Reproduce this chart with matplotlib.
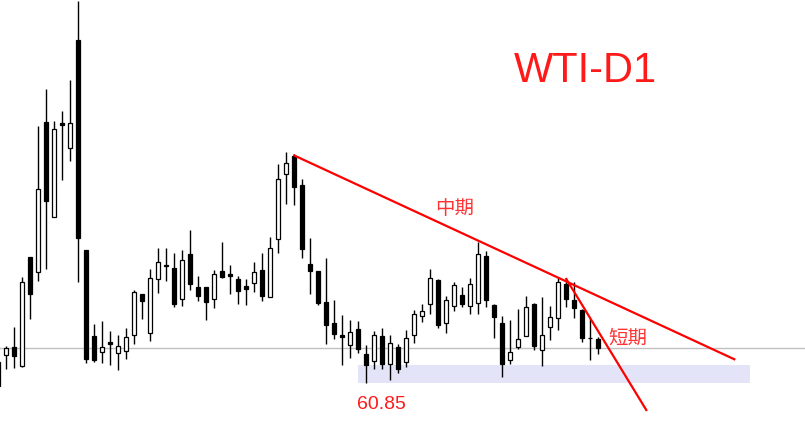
import numpy as np
import matplotlib.pyplot as plt

# daily candles
opens = [61.69, 61.97, 62.29, 61.53, 65.89, 65.29, 71.29, 67.49, 71.25, 70.25,
         74.57, 66.17, 62.73, 62.09, 62.49, 62.05, 62.13, 62.77, 64.41, 62.85,
         65.01, 65.57, 65.45, 64.21, 66.01, 64.69, 64.69, 64.21, 65.33, 65.21,
         65.01, 64.73, 64.85, 65.37, 64.29, 66.61, 69.21, 69.93, 68.77, 65.61,
         65.33, 64.09, 63.25, 62.77, 62.37, 63.01, 62.01, 61.73, 62.73, 61.61,
         62.29, 61.69, 62.77, 63.53, 64.01, 64.97, 63.25, 63.93, 64.37, 63.93,
         64.05, 65.93, 63.97, 63.25, 61.77, 62.29, 62.73, 64.01, 62.17, 63.09,
         63.45, 64.81, 64.17, 63.77, 62.65, 62.61]
highs = [61.77, 62.33, 63.09, 65.09, 65.89, 71.13, 72.61, 71.33, 71.73, 72.97,
         76.13, 66.17, 63.21, 63.33, 62.93, 62.77, 63.05, 64.57, 64.41, 65.41,
         66.25, 66.25, 66.05, 66.17, 66.97, 65.13, 64.69, 65.37, 66.49, 65.57,
         65.13, 65.01, 65.69, 66.05, 66.69, 69.61, 70.09, 70.01, 69.01, 66.65,
         65.33, 65.85, 64.17, 63.57, 63.37, 63.33, 62.37, 62.93, 63.05, 62.77,
         62.41, 62.97, 63.77, 64.01, 65.41, 65.01, 64.33, 64.89, 64.69, 65.05,
         66.49, 66.13, 64.01, 63.53, 63.37, 63.81, 64.33, 64.05, 64.29, 63.93,
         65.05, 65.05, 64.89, 63.81, 63.45, 62.69]
lows = [60.45, 61.41, 61.45, 61.49, 63.41, 64.93, 65.41, 67.49, 68.97, 69.73,
        64.89, 61.65, 61.69, 61.65, 61.57, 61.37, 61.81, 62.41, 63.41, 62.53,
        64.45, 64.93, 63.89, 63.93, 64.57, 64.13, 63.37, 63.85, 65.05, 64.41,
        64.01, 63.97, 64.49, 64.13, 64.29, 66.05, 68.01, 67.97, 65.85, 64.41,
        63.97, 62.41, 62.61, 61.57, 61.85, 62.05, 60.85, 61.41, 61.41, 60.97,
        61.25, 61.49, 62.45, 63.29, 63.61, 63.05, 62.85, 63.73, 63.89, 63.61,
        63.61, 63.89, 62.65, 61.09, 61.61, 62.21, 62.73, 62.17, 61.53, 62.57,
        62.97, 63.89, 63.45, 62.49, 61.77, 62.01]
closes = [60.73, 62.25, 61.93, 64.89, 64.41, 68.61, 68.13, 71.01, 71.17, 71.25,
          66.65, 61.81, 61.77, 62.29, 62.41, 62.33, 62.69, 64.49, 64.13, 65.05,
          65.69, 65.53, 64.01, 65.77, 64.81, 64.33, 64.09, 65.21, 65.09, 65.13,
          64.53, 64.61, 65.29, 64.33, 66.25, 69.01, 69.65, 68.69, 66.21, 65.33,
          64.05, 63.17, 62.81, 62.69, 62.89, 62.21, 61.57, 62.77, 61.61, 62.45,
          61.41, 62.65, 63.61, 63.73, 65.05, 63.17, 64.17, 64.77, 64.01, 64.81,
          66.01, 64.17, 63.49, 61.61, 62.09, 62.61, 63.89, 62.33, 62.77, 63.49,
          64.89, 64.21, 63.85, 62.65, 62.64, 62.25]

# drawn objects
mid_x = [37, 92]
mid_y = [69.95, 61.80]
short_x = [71, 81]
short_y = [65.01, 59.77]
zone_x = [45, 94]
zone_y = [60.85, 61.57]
last_price = 62.24
low_label = "60.85"

fig = plt.figure(figsize=(8.05, 4.36), dpi=100)
ax = fig.add_axes([0, 0, 1, 1])

idx = np.arange(len(opens))
o = np.array(opens)
c = np.array(closes)
up = c >= o

ax.axhline(last_price, color='#c0c0c0', lw=1, zorder=1)
ax.fill_between(zone_x, zone_y[0], zone_y[1], color='#e4e4f8', lw=0, zorder=1)

ax.vlines(idx, lows, highs, color='black', lw=1, zorder=2)
bottom = np.minimum(o, c)
height = np.maximum(np.abs(c - o), 0.01)
ax.bar(idx, height, bottom=bottom, width=0.55,
       color=np.where(up, 'white', 'black'), edgecolor='black', lw=0.9, zorder=3)

ax.plot(mid_x, mid_y, color='#ff0000', lw=1.6, zorder=4)
ax.plot(short_x, short_y, color='#ff0000', lw=1.6, zorder=4)

ax.text(0.7276, 0.8364, "WTI-D1", transform=ax.transAxes, ha='center', va='center',
        fontsize=30, color='#ff1a1a', family='Liberation Sans')
ax.text(0.5652, 0.5222, "中期", transform=ax.transAxes, ha='center', va='center',
        fontsize=14, color='#ff3333', family=['Noto Sans CJK SC', 'DejaVu Sans'])
ax.text(0.7799, 0.2252, "短期", transform=ax.transAxes, ha='center', va='center',
        fontsize=14, color='#ff3333', family=['Noto Sans CJK SC', 'DejaVu Sans'])
ax.text(0.4741, 0.0722, low_label, transform=ax.transAxes, ha='center', va='center',
        fontsize=14, color='#ff1a1a', family='Liberation Sans')

ax.set_xlim(0.2125, 100.84)
ax.set_ylim(58.73, 76.17)
ax.axis('off')

plt.savefig("out.png", dpi=100)
